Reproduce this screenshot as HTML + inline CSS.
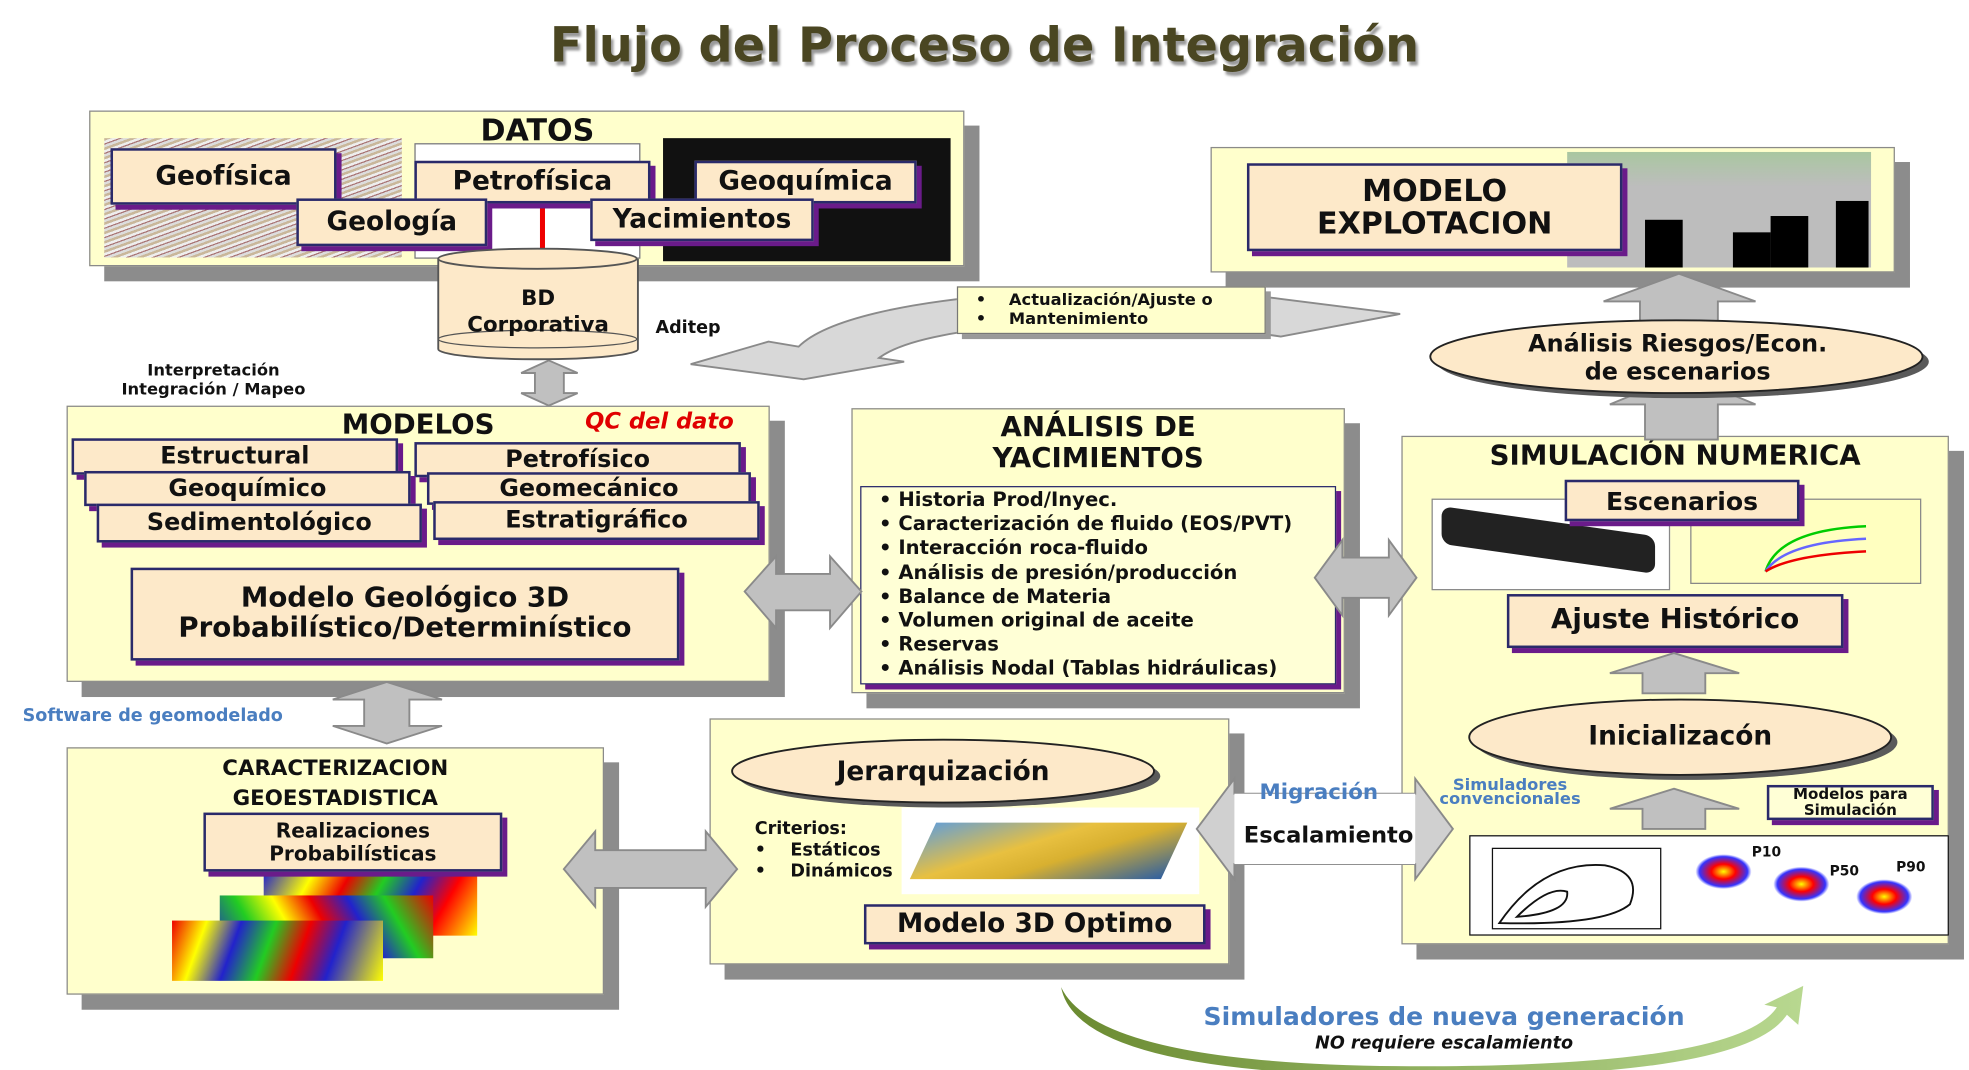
<!DOCTYPE html>
<html><head><meta charset="utf-8"><style>
html,body{margin:0;padding:0;background:#fff;width:1969px;height:1070px;overflow:hidden}
#w{position:absolute;left:0;top:0;width:1568px;height:852px;transform:scale(1.25574,1.2559);transform-origin:0 0;font-family:"DejaVu Sans","Liberation Sans",sans-serif;font-weight:bold;color:#111}
.a{position:absolute;box-sizing:border-box}
.p{position:absolute;box-sizing:border-box;background:#ffffcc;border:1.5px solid #8a8a8a;box-shadow:12px 12px 0 #8c8c8c}
.b{position:absolute;box-sizing:border-box;background:#fde9c9;border:2px solid #2a2a6a;box-shadow:4px 4px 0 #6a1b8a;text-align:center;display:flex;align-items:center;justify-content:center;line-height:1.1}
.t{position:absolute;white-space:nowrap;text-align:center}
</style></head><body><div id="w">
<div class="t" style="left:0;width:1568px;top:14px;font-size:38px;color:#4a4622;text-shadow:2px 3px 2px #999">Flujo del Proceso de Integración</div>

<div class="p" style="left:71px;top:88px;width:697px;height:124px"></div>
<div class="t" style="left:328px;width:200px;top:90px;font-size:24px">DATOS</div>
<div class="a" style="left:83px;top:110px;width:237px;height:95px;background:repeating-linear-gradient(160deg,#c9b79a 0 2px,#eee 2px 4px,#a77 4px 5px,#ddd 5px 7px)"></div>
<div class="a" style="left:330px;top:114px;width:180px;height:92px;background:#fff;border:1px solid #777"></div>
<div class="a" style="left:430px;top:160px;width:4px;height:40px;background:#e00"></div>
<div class="a" style="left:528px;top:110px;width:229px;height:98px;background:#111"></div>
<div class="b" style="left:88px;top:118px;width:180px;height:45px;font-size:21px">Geofísica</div>
<div class="b" style="left:330px;top:128px;width:188px;height:34px;font-size:21px">Petrofísica</div>
<div class="b" style="left:553px;top:128px;width:177px;height:34px;font-size:21px">Geoquímica</div>
<div class="b" style="left:236px;top:158px;width:152px;height:38px;font-size:21px">Geología</div>
<div class="b" style="left:470px;top:158px;width:178px;height:34px;font-size:21px">Yacimientos</div>

<div class="p" style="left:964px;top:117px;width:545px;height:100px"></div>
<div class="a" style="left:1248px;top:121px;width:242px;height:92px;background:linear-gradient(#a9c7a0,#bdbdbd 30%,#bdbdbd)"></div>
<div class="a" style="left:1310px;top:175px;width:30px;height:38px;background:#000"></div>
<div class="a" style="left:1380px;top:185px;width:30px;height:28px;background:#000"></div>
<div class="a" style="left:1410px;top:172px;width:30px;height:41px;background:#000"></div>
<div class="a" style="left:1462px;top:160px;width:26px;height:53px;background:#000"></div>
<div class="b" style="left:993px;top:130px;width:299px;height:70px;font-size:24px">MODELO<br>EXPLOTACION</div>

<div class="p" style="left:53px;top:323px;width:560px;height:220px"></div>
<div class="t" style="left:233px;width:200px;top:326px;font-size:22px">MODELOS</div>
<div class="t" style="left:466px;top:325px;font-size:18px;color:#e00000;font-style:italic">QC del dato</div>
<div class="b" style="left:57px;top:349px;width:260px;height:29px;font-size:19px">Estructural</div>
<div class="b" style="left:330px;top:352px;width:260px;height:28px;font-size:19px">Petrofísico</div>
<div class="b" style="left:67px;top:375px;width:260px;height:28px;font-size:19px">Geoquímico</div>
<div class="b" style="left:340px;top:376px;width:258px;height:26px;font-size:19px">Geomecánico</div>
<div class="b" style="left:77px;top:401px;width:259px;height:31px;font-size:19px">Sedimentológico</div>
<div class="b" style="left:345px;top:399px;width:260px;height:31px;font-size:19px">Estratigráfico</div>
<div class="b" style="left:104px;top:452px;width:437px;height:74px;font-size:22px">Modelo Geológico 3D<br>Probabilístico/Determinístico</div>

<div class="p" style="left:678px;top:325px;width:393px;height:227px"></div>
<div class="t" style="left:678px;width:393px;top:328px;font-size:22px;line-height:25px">ANÁLISIS DE<br>YACIMIENTOS</div>
<div class="a" style="left:685px;top:387px;width:379px;height:158px;background:#ffffd6;border:1.5px solid #2a2a6a;box-shadow:4px 4px 0 #6a1b8a;font-size:15.6px;line-height:19.2px;padding:1px 0 0 14px;white-space:nowrap">
• Historia Prod/Inyec.<br>• Caracterización de fluido (EOS/PVT)<br>• Interacción roca-fluido<br>• Análisis de presión/producción<br>• Balance de Materia<br>• Volumen original de aceite<br>• Reservas<br>• Análisis Nodal (Tablas hidráulicas)</div>

<div class="p" style="left:1116px;top:347px;width:436px;height:405px"></div>
<div class="t" style="left:1116px;width:436px;top:351px;font-size:22px">SIMULACIÓN NUMERICA</div>
<div class="a" style="left:1140px;top:397px;width:190px;height:73px;background:#fff;border:1px solid #888"></div>
<div class="a" style="left:1148px;top:415px;width:170px;height:30px;background:#222;transform:skewY(8deg);border-radius:8px"></div>
<div class="a" style="left:1346px;top:397px;width:184px;height:68px;background:#ffffc0;border:1px solid #888"></div>
<svg class="a" style="left:1346px;top:397px" width="184" height="68"><path d="M60,58 Q70,25 140,22" stroke="#0c0" stroke-width="2" fill="none"/><path d="M60,58 Q75,35 140,32" stroke="#66f" stroke-width="2" fill="none"/><path d="M60,58 Q80,45 140,42" stroke="#e00" stroke-width="2" fill="none"/></svg>
<div class="b" style="left:1246px;top:382px;width:187px;height:33px;font-size:20px">Escenarios</div>
<div class="b" style="left:1200px;top:473px;width:268px;height:43px;font-size:22px">Ajuste Histórico</div>
<div class="t" style="left:1130px;width:145px;top:620px;font-size:13px;line-height:11px;color:#4a7ec0">Simuladores<br>convencionales</div>
<div class="b" style="left:1407px;top:625px;width:133px;height:28px;font-size:12px;background:#ffffd6">Modelos para<br>Simulación</div>
<div class="a" style="left:1170px;top:665px;width:382px;height:80px;background:#fff;border:1.5px solid #111"></div>
<div class="a" style="left:1188px;top:675px;width:135px;height:65px;border:1.5px solid #111"></div>
<svg class="a" style="left:1188px;top:675px" width="135" height="65"><path d="M6,60 Q40,10 90,14 Q120,20 110,45 Q90,62 6,60Z M20,55 Q45,30 60,35 Q62,52 20,55Z" fill="none" stroke="#111" stroke-width="1.5"/></svg>
<div class="a" style="left:1350px;top:680px;width:45px;height:28px;background:radial-gradient(#ff0,#f00 30%,#33f 60%,transparent 70%)"></div>
<div class="a" style="left:1412px;top:690px;width:45px;height:28px;background:radial-gradient(#ff0,#f00 30%,#33f 60%,transparent 70%)"></div>
<div class="a" style="left:1478px;top:700px;width:45px;height:28px;background:radial-gradient(#ff0,#f00 30%,#33f 60%,transparent 70%)"></div>
<div class="t" style="left:1395px;top:672px;font-size:11px">P10</div>
<div class="t" style="left:1457px;top:687px;font-size:11px">P50</div>
<div class="t" style="left:1510px;top:684px;font-size:11px">P90</div>

<div class="p" style="left:53px;top:595px;width:428px;height:197px"></div>
<div class="t" style="left:53px;width:428px;top:600px;font-size:17px;line-height:24px">CARACTERIZACION<br>GEOESTADISTICA</div>
<div class="a" style="left:210px;top:695px;width:170px;height:50px;background:linear-gradient(120deg,#22c 0,#ff0 20%,#e00 35%,#2c2 50%,#22c 65%,#f00 80%,#ff0)"></div>
<div class="a" style="left:175px;top:713px;width:170px;height:50px;background:linear-gradient(60deg,#22c 0,#2c2 20%,#ff0 35%,#e00 50%,#22c 65%,#2c2 80%,#e00)"></div>
<div class="a" style="left:137px;top:733px;width:168px;height:48px;background:linear-gradient(110deg,#e00 0,#ff0 15%,#22c 30%,#2c2 45%,#e00 60%,#22c 75%,#ff0)"></div>
<div class="b" style="left:162px;top:647px;width:238px;height:47px;font-size:16px">Realizaciones<br>Probabilísticas</div>

<div class="p" style="left:565px;top:572px;width:414px;height:196px"></div>
<div class="a" style="left:601px;top:652px;font-size:14px;line-height:17px">Criterios:<br>•&nbsp;&nbsp;&nbsp; Estáticos<br>•&nbsp;&nbsp;&nbsp; Dinámicos</div>
<div class="a" style="left:718px;top:643px;width:237px;height:69px;background:#fff"></div>
<div class="a" style="left:735px;top:655px;width:200px;height:45px;background:linear-gradient(160deg,#6aa0d0,#e8c040 40%,#d8b030 60%,#3060a0);transform:skewX(-25deg)"></div>
<div class="b" style="left:688px;top:720px;width:272px;height:32px;font-size:21px">Modelo 3D Optimo</div>

<svg class="a" style="left:0;top:0" width="1568" height="852">
<defs><linearGradient id="g" x1="0" x2="1"><stop offset="0" stop-color="#6a8a30"/><stop offset="1" stop-color="#b8d890"/></linearGradient></defs>
<g fill="#c0c0c0" stroke="#8a8a8a" stroke-width="1.5">
<path d="M1115,250 L1020,268 C900,250 740,255 700,285 L720,288 L640,302 L550,290 L612,272 L636,276 C680,232 900,222 1020,238 Z" fill="#d8d8d8"/>
<polygon points="593,471 618,443 618,457 661,457 661,443 686,471 661,500 661,486 618,486 618,500"/>
<polygon points="1047,460 1069,430 1069,444 1106,444 1106,430 1128,460 1106,490 1106,476 1069,476 1069,490"/>
<polygon points="449,692 474,662 474,677 562,677 562,662 587,692 562,722 562,707 474,707 474,722"/>
<polygon points="953,660 983,620 983,632 1127,632 1127,620 1157,660 1127,700 1127,688 983,688 983,700" fill="#d0d0d0"/>
<polygon points="437,287 460,297 449,297 449,313 460,313 437,323 415,313 426,313 426,297 415,297"/>
<polygon points="308,543 352,557 326,557 326,578 352,578 308,592 265,578 290,578 290,557 265,557"/>
<polygon points="1337,218 1398,240 1368,240 1368,268 1306,268 1306,240 1277,240"/>
<polygon points="1340,298 1398,322 1368,322 1368,350 1310,350 1310,322 1282,322"/>
<polygon points="1333,520 1385,536 1358,536 1358,552 1308,552 1308,536 1282,536"/>
<polygon points="1333,628 1385,644 1358,644 1358,660 1308,660 1308,644 1282,644"/>
</g>
<rect x="983" y="632" width="144" height="56" fill="#fff"/>
<path d="M845,786 Q875,850 1140,849 Q1385,848 1415,802 L1405,800 L1436,785 L1432,816 L1423,808 Q1390,858 1140,857 Q858,858 845,786Z" fill="url(#g)"/>
<path d="M349,206 L349,278 A79,8 0 0 0 508,278 L508,206" fill="#fde9c9" stroke="#555" stroke-width="1.5"/>
<ellipse cx="428" cy="206" rx="79" ry="8" fill="#fde9c9" stroke="#555" stroke-width="1.5"/>
<ellipse cx="428" cy="270" rx="79" ry="7" fill="none" stroke="#555" stroke-width="1"/>
<ellipse cx="1340" cy="288" rx="196" ry="29" fill="#5a5a5a"/>
<ellipse cx="1335" cy="284" rx="196" ry="29" fill="#fde9c9" stroke="#222" stroke-width="1.5"/>
<ellipse cx="1343" cy="591" rx="168" ry="30" fill="#5a5a5a"/>
<ellipse cx="1338" cy="587" rx="168" ry="30" fill="#fde9c9" stroke="#222" stroke-width="1.5"/>
<ellipse cx="756" cy="618" rx="168" ry="25" fill="#5a5a5a"/>
<ellipse cx="751" cy="614" rx="168" ry="25" fill="#fde9c9" stroke="#222" stroke-width="1.5"/>
</svg>
<div class="t" style="left:349px;width:159px;top:228px;font-size:17px;line-height:21px">BD<br>Corporativa</div>
<div class="t" style="left:522px;top:253px;font-size:14px">Aditep</div>
<div class="t" style="left:80px;width:180px;top:288px;font-size:13px;line-height:15px">Interpretación<br>Integración / Mapeo</div>
<div class="a" style="left:762px;top:228px;width:246px;height:38px;background:#ffffcc;border:1.5px solid #777;box-shadow:4px 4px 0 #999;font-size:13px;line-height:15px;padding:3px 0 0 14px">•&nbsp;&nbsp;&nbsp; Actualización/Ajuste o<br>•&nbsp;&nbsp;&nbsp; Mantenimiento</div>
<div class="t" style="left:1138px;width:396px;top:263px;font-size:19px;line-height:22px">Análisis Riesgos/Econ.<br>de escenarios</div>
<div class="t" style="left:1170px;width:336px;top:574px;font-size:21px">Inicializacón</div>
<div class="t" style="left:583px;width:336px;top:602px;font-size:21px">Jerarquización</div>
<div class="t" style="left:983px;width:150px;top:655px;font-size:18px">Escalamiento</div>
<div class="t" style="left:1003px;top:621px;font-size:17px;color:#4a7ec0">Migración</div>
<div class="t" style="left:18px;top:562px;font-size:14px;color:#4a7ec0">Software de geomodelado</div>
<div class="t" style="left:940px;width:420px;top:797px;font-size:20px;color:#4a7ec0">Simuladores de nueva generación</div>
<div class="t" style="left:940px;width:420px;top:823px;font-size:14px;font-style:italic">NO requiere escalamiento</div>
</div></body></html>
